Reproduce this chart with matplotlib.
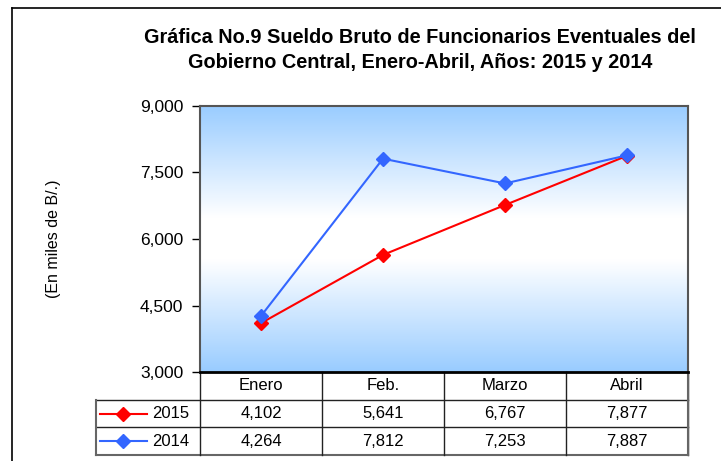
import numpy as np
import matplotlib
matplotlib.use("Agg")
import matplotlib.pyplot as plt
from matplotlib.colors import LinearSegmentedColormap
from matplotlib.lines import Line2D

plt.rcParams['font.family'] = ['Liberation Sans', 'DejaVu Sans']

# data
meses = ['Enero', 'Feb.', 'Marzo', 'Abril']
series = ['2015', '2014']
v2015 = [4102, 5641, 6767, 7877]
v2014 = [4264, 7812, 7253, 7887]
colores = ['#FF0000', '#3366FF']
yticks = [3000, 4500, 6000, 7500, 9000]

fig = plt.figure(figsize=(7.21, 4.61), dpi=100)
W, H = 721.0, 461.0

# outer frame of the chart
fig.add_artist(Line2D([12 / W, 12 / W], [0, 1 - 8 / H], color='black', lw=1.2))
fig.add_artist(Line2D([12 / W, 1], [1 - 8 / H, 1 - 8 / H], color='black', lw=1.2))

ax = fig.add_axes([200 / W, 89 / H, 488 / W, 266 / H])

# gradient background blue -> white -> blue
cmap = LinearSegmentedColormap.from_list('fondo', [(0, '#99CCFF'), (0.42, '#FFFFFF'),
                                                   (0.58, '#FFFFFF'), (1, '#99CCFF')])
grad = np.linspace(0, 1, 256).reshape(-1, 1)
ax.imshow(grad, cmap=cmap, aspect='auto', extent=[0, 4, 3000, 9000], zorder=0)

x = np.arange(len(meses)) + 0.5
datos = [v2015, v2014]
for vals, c in zip(datos, colores):
    ax.plot(x, vals, color=c, lw=1.5, marker='D', ms=7.5, mec=c, mfc=c, zorder=3)

ax.set_xlim(0, 4)
ax.set_ylim(3000, 9000)
ax.set_yticks(yticks)
ax.set_yticklabels([f'{t:,}' for t in yticks], fontsize=12.5)
ax.tick_params(axis='y', direction='out', length=6, width=1, pad=6)
ax.set_xticks([])
for s in ['top', 'right', 'left']:
    ax.spines[s].set_color('#555555')
    ax.spines[s].set_linewidth(1.5)
ax.spines['bottom'].set_color('black')
ax.spines['bottom'].set_linewidth(2)

ax.set_ylabel('(En miles de B/.)', fontsize=11.5, labelpad=57)

# data table below the plot
rh = 27.7 / 266
lab_x = -104 / 488
kw = dict(transform=ax.transAxes, clip_on=False)
lc = '#222222'
# horizontal lines
ax.plot([lab_x, 1], [-rh, -rh], color=lc, lw=1, **kw)
ax.plot([lab_x, 1], [-2 * rh, -2 * rh], color=lc, lw=1, **kw)
ax.plot([lab_x, 1], [-3 * rh, -3 * rh], color='#666666', lw=1.5, **kw)
# vertical lines
for i in range(5):
    ax.plot([i / 4, i / 4], [0, -3 * rh], color=lc, lw=1, **kw)
ax.plot([lab_x, lab_x], [-rh, -3 * rh], color='#666666', lw=1.5, **kw)
ax.plot([1, 1], [0, -3 * rh], color='#666666', lw=1.5, **kw)

for i, m in enumerate(meses):
    ax.text((i + 0.5) / 4, -0.5 * rh, m, ha='center', va='center', fontsize=12, **kw)
for r, (nombre, vals, c) in enumerate(zip(series, datos, colores)):
    yy = -(1.5 + r) * rh
    ax.plot([-100 / 488, -53 / 488], [yy, yy], color=c, lw=1.5, **kw)
    ax.plot([-77 / 488], [yy], color=c, marker='D', ms=7.5, **kw)
    ax.text(-48 / 488, yy, nombre, ha='left', va='center', fontsize=12, **kw)
    for i, v in enumerate(vals):
        ax.text((i + 0.5) / 4, yy, f'{v:,}', ha='center', va='center', fontsize=12, **kw)

fig.text(420 / W, 1 - 50 / H,
         'Gráfica No.9 Sueldo Bruto de Funcionarios Eventuales del\n'
         'Gobierno Central, Enero-Abril, Años: 2015 y 2014',
         ha='center', va='center', fontsize=14.3, fontweight='bold', linespacing=1.45)

fig.savefig('out.png', dpi=100)
